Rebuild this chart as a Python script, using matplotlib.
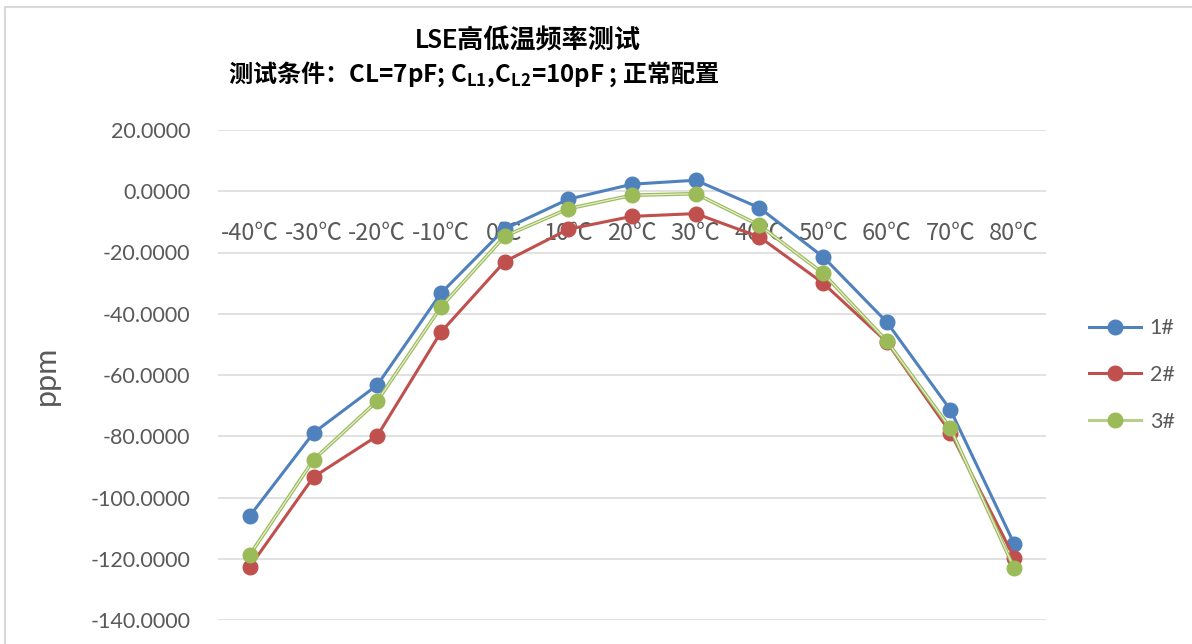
import matplotlib
matplotlib.use("Agg")
import matplotlib.pyplot as plt
from matplotlib.lines import Line2D
from matplotlib.patches import Rectangle
from matplotlib.ticker import FormatStrFormatter

plt.rcParams['font.family'] = ['Lato', 'Noto Sans CJK SC', 'DejaVu Sans']
plt.rcParams['mathtext.fontset'] = 'custom'
plt.rcParams['mathtext.rm'] = 'Noto Sans CJK SC:bold'
plt.rcParams['mathtext.it'] = 'Noto Sans CJK SC:bold'
plt.rcParams['mathtext.bf'] = 'Noto Sans CJK SC:bold'

# temperature points and frequency deviation (ppm) of the three samples
temps = ['-40℃', '-30℃', '-20℃', '-10℃', '0℃', '10℃', '20℃',
         '30℃', '40℃', '50℃', '60℃', '70℃', '80℃']
s1 = [-106.0, -78.9, -63.3, -33.3, -12.3, -2.6, 2.3, 3.6, -5.4, -21.4, -42.7, -71.4, -115.1]
s2 = [-122.6, -93.3, -79.9, -46.0, -23.0, -12.4, -8.2, -7.3, -14.9, -30.0, -49.2, -78.8, -119.6]
s3 = [-118.7, -87.7, -68.5, -37.8, -14.7, -5.7, -1.3, -0.8, -11.1, -26.8, -48.9, -77.4, -123.1]
names = ['1#', '2#', '3#']

blue = '#4F81BD'
red = '#C0504D'
green = '#9BBB59'
grey = '#595959'

fig = plt.figure(figsize=(11.92, 6.44), dpi=100)
ax = fig.add_axes([218 / 1192, 1 - 620 / 644, (1046 - 218) / 1192, (620 - 130) / 644])

x = list(range(len(temps)))
ms = 10.5
ax.plot(x, s1, color=blue, lw=2.2, marker='o', ms=ms, zorder=3)
ax.plot(x, s2, color=red, lw=2.2, marker='o', ms=ms, zorder=4)
# sample 3 uses a double outline line
ax.plot(x, s3, color=green, lw=2.6, zorder=5)
ax.plot(x, s3, color='#E6EDD5', lw=0.9, zorder=5)
ax.plot(x, s3, color=green, ls='none', marker='o', ms=ms, zorder=6)

ax.set_xlim(-0.5, len(temps) - 0.5)
ax.set_ylim(-140, 20)
ax.set_yticks(range(-140, 21, 20))
ax.yaxis.set_major_formatter(FormatStrFormatter('%.4f'))
ax.grid(axis='y', color='#D9D9D9', lw=1.1)
ax.set_axisbelow(True)
for sp in ax.spines.values():
    sp.set_visible(False)
ax.spines['bottom'].set_position(('data', 0))

ax.set_xticks(x)
ax.set_xticklabels(temps, family=['Noto Sans CJK SC'])
ax.tick_params(axis='x', length=0, pad=22, labelsize=17, labelcolor=grey)
ax.tick_params(axis='y', length=0, pad=20, labelsize=15.5, labelcolor=grey)
ax.set_ylabel('ppm', fontsize=22, color=grey, labelpad=22)

handles = [
    Line2D([], [], color=blue, lw=2.2, marker='o', ms=ms),
    Line2D([], [], color=red, lw=2.2, marker='o', ms=ms),
    Line2D([], [], color='#B8CF8A', lw=2.2, marker='o', ms=ms, mfc=green, mec=green),
]
fig.legend(handles, names, loc='center left', bbox_to_anchor=(1070 / 1192, 1 - 375 / 644),
           frameon=False, fontsize=15.5, labelcolor=grey, handlelength=2.4,
           handletextpad=0.4, labelspacing=1.25)

fig.text(415 / 1192, 1 - 40 / 644, 'LSE高低温频率测试', fontsize=18.8, fontweight='bold',
         ha='left', va='center')
fig.text(228 / 1192, 1 - 74 / 644,
         r'测试条件：CL=7pF; C$_{\mathrm{L1}}$,C$_{\mathrm{L2}}$=10pF ; 正常配置',
         family=['Noto Sans CJK SC'], fontsize=17.4, fontweight='bold', ha='left', va='center')

# outer chart frame
fig.add_artist(Rectangle((4.5 / 1192, -0.1), 1.2, 1.1 - 7.5 / 644, transform=fig.transFigure,
                         fill=False, ec='#D9D9D9', lw=1.5))

fig.savefig('out.png', dpi=100)
